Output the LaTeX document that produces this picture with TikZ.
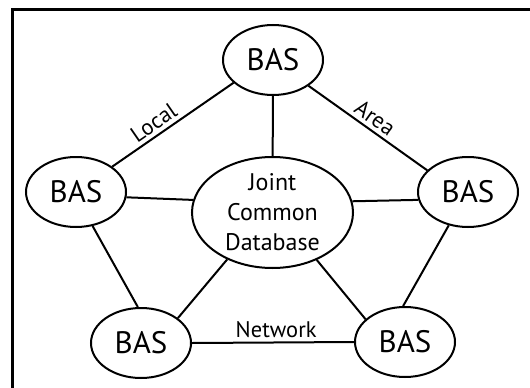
\documentclass[tikz,border=0pt]{standalone}
\usepackage{fontspec}
\setmainfont{PT Sans}
\usetikzlibrary{shapes.geometric}
\begin{document}
\begin{tikzpicture}[x=1pt,y=1pt,
 bas/.style={ellipse,draw,line width=2pt,minimum width=100pt,minimum height=70pt,inner sep=0pt,font=\fontsize{31}{37}\selectfont},
 db/.style={ellipse,draw,line width=2pt,minimum width=161pt,minimum height=111pt,inner sep=0pt,align=center,font=\fontsize{24}{30}\selectfont},
 link/.style={line width=2pt},
 lab/.style={font=\fontsize{22.5}{26}\selectfont,sloped,above,inner sep=3.5pt},
 frame/.style={line width=3pt}]
\useasboundingbox (0,0) rectangle (530,-388);
\draw[frame] (12.5,-388) -- (12.5,-9.5) -- (530,-9.5);
\node[bas] (t) at (273,-60) {BAS};
\node[bas] (l) at (76,-192) {BAS};
\node[bas] (r) at (468,-192) {BAS};
\node[bas] (bl) at (141,-343) {BAS};
\node[bas] (br) at (405,-342) {BAS};
\node[db] (c) at (272.5,-212.5) {Joint\\Common\\Database};
\draw[link] (l.35) -- node[lab,pos=0.4]{Local} (t.210);
\draw[link] (t.324) -- node[lab,pos=0.5]{Area} (r.152);
\draw[link] (t) -- (c);
\draw[link] (l.-6) -- (c.171);
\draw[link] (c.8.5) -- (r.189);
\draw[link] (l.-64) -- (bl.95);
\draw[link] (r.240) -- (br.93);
\draw[link] (bl.34) -- (c.226);
\draw[link] (c.313) -- (br.150);
\draw[link] (bl.0) -- node[lab,pos=0.52]{Network} (br.180);
\end{tikzpicture}
\end{document}
